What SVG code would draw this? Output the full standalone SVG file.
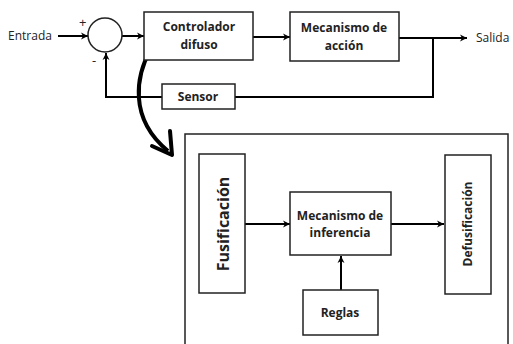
<svg xmlns="http://www.w3.org/2000/svg" width="513" height="344" viewBox="0 0 513 344">
<defs>
<marker id="ah" markerWidth="10" markerHeight="10" refX="8" refY="5" orient="auto" markerUnits="userSpaceOnUse">
<path d="M1,1.5 L8,5 L1,8.5 L3,5 Z" fill="#000"/>
</marker>
<style>
.box{fill:#fff;stroke:#222;stroke-width:1.5}
.ln{fill:none;stroke:#000;stroke-width:2}
.t{font-family:"Open Sans","DejaVu Sans",sans-serif;font-size:12px;fill:#222}
.b{font-weight:bold;text-anchor:middle}
</style>
</defs>
<rect width="513" height="344" fill="#fff"/>
<g id="controlador-detalle">
<rect class="box" x="185" y="134" width="323" height="212"/>
</g>
<g id="connectors">
<line class="ln" x1="58" y1="36" x2="88" y2="36" marker-end="url(#ah)"/>
<line class="ln" x1="122" y1="36" x2="144" y2="36" marker-end="url(#ah)"/>
<line class="ln" x1="253" y1="37" x2="290" y2="37" marker-end="url(#ah)"/>
<line class="ln" x1="399" y1="38" x2="467" y2="38" marker-end="url(#ah)"/>
<polyline class="ln" points="433,38 433,97 235,97"/>
<polyline class="ln" points="162,97 106,97 106,53" marker-end="url(#ah)"/>
<line class="ln" x1="245" y1="224" x2="290" y2="224" marker-end="url(#ah)"/>
<line class="ln" x1="391" y1="224" x2="444" y2="224" marker-end="url(#ah)"/>
<line class="ln" x1="341" y1="290" x2="341" y2="256" marker-end="url(#ah)"/>
<path d="M151,49 C136,75 128,118 168,151" fill="none" stroke="#000" stroke-width="4"/>
<path d="M152,146 L172,155 L170,131" fill="none" stroke="#000" stroke-width="4" stroke-linejoin="round" stroke-linecap="round"/>
</g>
<g id="entrada"><text class="t" x="8" y="40">Entrada</text></g>
<g id="sumador">
<circle cx="105" cy="35" r="17" fill="#fff" stroke="#222" stroke-width="1.5"/>
<text class="t" x="79" y="27" style="font-size:13px">+</text>
<text class="t" x="92" y="65" style="font-size:13px">-</text>
</g>
<g id="controlador">
<rect class="box" x="144" y="12" width="109" height="48"/>
<text class="t b" x="199" y="31">Controlador</text>
<text class="t b" x="199" y="49">difuso</text>
</g>
<g id="mecanismo-accion">
<rect class="box" x="290" y="12" width="109" height="49"/>
<text class="t b" x="344" y="32">Mecanismo de</text>
<text class="t b" x="344" y="50">acción</text>
</g>
<g id="salida"><text class="t" x="476" y="42">Salida</text></g>
<g id="sensor">
<rect class="box" x="162" y="84" width="73" height="25"/>
<text class="t b" x="198" y="101">Sensor</text>
</g>
<g id="fusificacion">
<rect class="box" x="199" y="154" width="46" height="139"/>
<text class="t b" transform="translate(229,224) rotate(-90)" style="font-size:16px">Fusificación</text>
</g>
<g id="mecanismo-inferencia">
<rect class="box" x="290" y="192" width="101" height="63"/>
<text class="t b" x="340" y="220">Mecanismo de</text>
<text class="t b" x="340" y="237">inferencia</text>
</g>
<g id="defusificacion">
<rect class="box" x="445" y="155" width="46" height="139"/>
<text class="t b" transform="translate(472,224) rotate(-90)">Defusificación</text>
</g>
<g id="reglas">
<rect class="box" x="303" y="290" width="75" height="45"/>
<text class="t b" x="340" y="317">Reglas</text>
</g>
</svg>
